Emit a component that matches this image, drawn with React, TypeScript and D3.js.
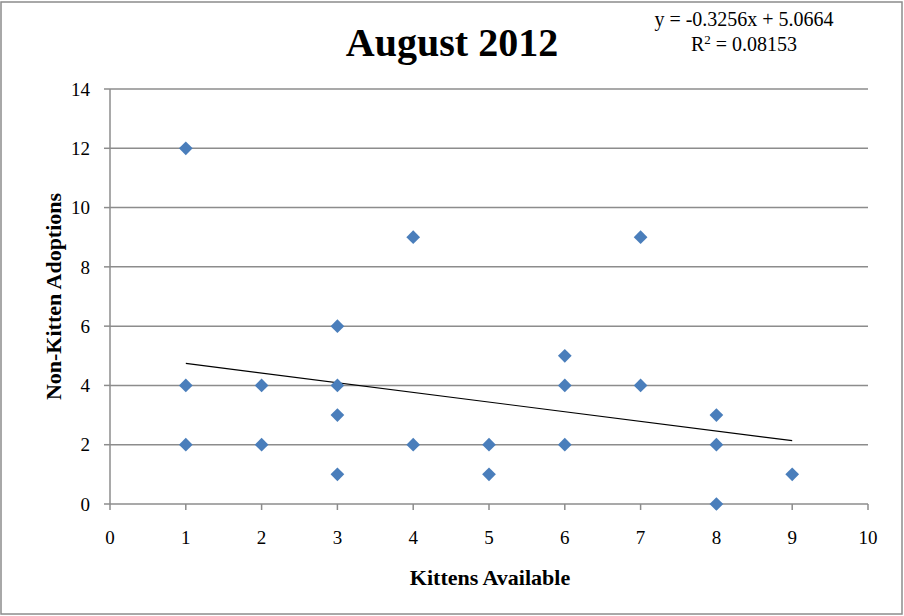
import React from "react";
import * as d3 from "d3";

const kittens = [1, 1, 1, 2, 2, 3, 3, 3, 3, 4, 4, 5, 5, 6, 6, 6, 7, 7, 8, 8, 8, 9];
const adoptions = [12, 4, 2, 4, 2, 6, 4, 3, 1, 9, 2, 2, 1, 5, 4, 2, 9, 4, 3, 2, 0, 1];
const xTicks = [0, 1, 2, 3, 4, 5, 6, 7, 8, 9, 10];
const yTicks = [0, 2, 4, 6, 8, 10, 12, 14];
const slope = -0.3256;
const intercept = 5.0664;
const trendRange = [1, 9];

export default function App() {
  const W = 904, H = 616;
  const x = d3.scaleLinear().domain([0, 10]).range([110, 868]);
  const y = d3.scaleLinear().domain([0, 14]).range([504, 89]);
  const font = "'Liberation Serif', 'DejaVu Serif', serif";
  const line = d3.line<number>().x((d) => x(d)).y((d) => y(slope * d + intercept));
  const diamond = d3.symbol().type(d3.symbolDiamond2).size(120)();
  return (
    <div style={{ position: "absolute", left: 0, top: 0 }}>
      <svg width={W} height={H} style={{ display: "block" }}>
        <rect x={1} y={2} width={901} height={612} fill="#fff" stroke="#8c8c8c" strokeWidth={1.5} />
        {yTicks.map((t) => (
          <g key={"y" + t}>
            {t > 0 && <line x1={x(0)} x2={x(10)} y1={y(t)} y2={y(t)} stroke="#8c8c8c" strokeWidth={1.5} />}
            <line x1={104} x2={x(0)} y1={y(t)} y2={y(t)} stroke="#8c8c8c" strokeWidth={1.5} />
            <text x={90} y={y(t)} dy="0.35em" textAnchor="end" fontFamily={font} fontSize={19}>{t}</text>
          </g>
        ))}
        <line x1={x(0)} x2={x(0)} y1={y(14)} y2={y(0)} stroke="#8c8c8c" strokeWidth={1.5} />
        <line x1={x(0)} x2={x(10)} y1={y(0)} y2={y(0)} stroke="#8c8c8c" strokeWidth={1.5} />
        {xTicks.map((t) => (
          <g key={"x" + t}>
            <line x1={x(t)} x2={x(t)} y1={y(0)} y2={y(0) + 6} stroke="#8c8c8c" strokeWidth={1.5} />
            <text x={x(t)} y={544} textAnchor="middle" fontFamily={font} fontSize={19}>{t}</text>
          </g>
        ))}
        <path d={line(trendRange) || ""} stroke="#000" strokeWidth={1.2} fill="none" />
        {kittens.map((k, i) => (
          <path key={i} d={diamond || ""} transform={`translate(${x(k)},${y(adoptions[i])})`} fill="#4a7ebb" />
        ))}
        <text x={452} y={56} textAnchor="middle" fontFamily={font} fontWeight="bold" fontSize={40}>August 2012</text>
        <text x={744} y={26} textAnchor="middle" fontFamily={font} fontSize={20}>y = -0.3256x + 5.0664</text>
        <text x={744} y={51} textAnchor="middle" fontFamily={font} fontSize={20}>
          R<tspan dy={-7} fontSize={13}>2</tspan><tspan dy={7}> = 0.08153</tspan>
        </text>
        <text x={490} y={585} textAnchor="middle" fontFamily={font} fontWeight="bold" fontSize={22}>Kittens Available</text>
        <text transform={`translate(61,${296.5}) rotate(-90)`} textAnchor="middle" fontFamily={font} fontWeight="bold" fontSize={22}>Non-Kitten Adoptions</text>
      </svg>
    </div>
  );
}
